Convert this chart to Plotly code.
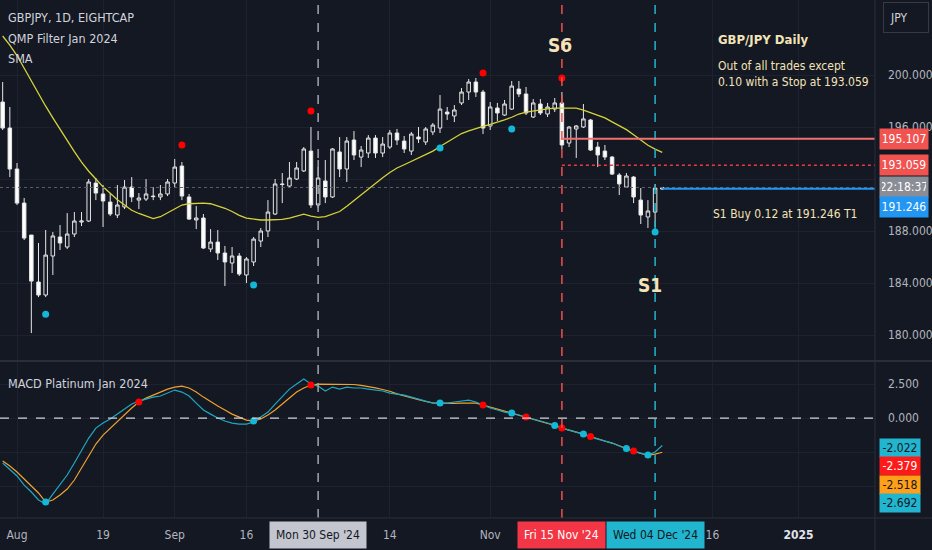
''' GBP/JPY daily chart with QMP filter, SMA and MACD Platinum panel. '''

import pandas as pd
import plotly.graph_objects as go

# trading days shown on the chart (forex: every weekday)
first_day = "2024-07-30"
last_day = "2024-12-05"

bar_open = [197.92, 195.92, 192.77, 190.15, 187.69, 184.08, 183.08, 186.08, 187.54, 186.77,
            187.77, 188.69, 188.77, 191.69, 190.85, 190.23, 189.23, 189.85, 191.38, 190.38,
            190.46, 190.69, 190.62, 190.85, 191.69, 193.0, 190.62, 188.85, 189.0, 186.62,
            187.15, 186.31, 185.54, 186.08, 184.62, 185.62, 187.23, 188.0, 189.31, 191.62,
            191.46, 192.0, 192.62, 194.15, 190.0, 191.85, 190.62, 194.08, 192.77, 195.0,
            193.69, 194.0, 195.15, 194.0, 194.46, 195.54, 194.92, 194.15, 195.23, 194.85,
            195.62, 195.92, 197.15, 196.85, 197.85, 198.69, 199.46, 198.69, 196.08, 197.46,
            196.92, 197.38, 198.92, 198.54, 196.77, 197.77, 197.0, 197.38, 197.85, 194.77,
            195.85, 196.0, 196.54, 194.46, 194.15, 193.69, 192.31, 191.38, 192.15, 190.38,
            189.08, 189.46, 191.23]
bar_high = [199.46, 197.54, 193.23, 190.54, 187.69, 187.08, 188.08, 187.92, 188.46, 189.38,
            189.46, 189.46, 192.0, 192.08, 191.54, 190.92, 191.54, 191.92, 192.15, 190.92,
            192.0, 191.38, 191.54, 192.0, 193.54, 193.31, 190.85, 189.92, 189.31, 188.15,
            188.08, 186.85, 186.77, 186.31, 186.0, 187.54, 188.23, 190.38, 192.0, 192.46,
            193.31, 193.31, 194.46, 196.0, 193.46, 193.46, 194.38, 195.23, 195.23, 195.69,
            194.54, 195.38, 195.38, 195.23, 195.77, 195.85, 195.31, 195.62, 196.0, 196.0,
            196.31, 198.46, 197.54, 197.69, 199.0, 199.69, 199.77, 198.85, 197.92, 197.85,
            198.08, 199.54, 199.54, 199.08, 198.15, 198.15, 197.85, 198.23, 198.69, 196.08,
            196.15, 197.77, 196.62, 194.85, 194.62, 193.77, 192.46, 192.46, 192.23, 191.31,
            190.38, 191.62, 191.38]
bar_low = [195.77, 192.15, 190.0, 187.31, 180.15, 182.92, 182.92, 184.62, 186.54, 186.62,
           187.54, 188.38, 188.69, 190.38, 188.31, 189.15, 189.0, 189.69, 190.23, 189.69,
           190.31, 190.38, 190.38, 190.69, 191.31, 190.38, 188.85, 188.15, 186.62, 186.38,
           185.77, 183.77, 184.77, 184.54, 184.0, 185.31, 186.77, 187.54, 189.23, 190.15,
           191.38, 191.92, 192.54, 189.77, 189.77, 190.15, 190.54, 192.15, 191.77, 193.46,
           192.92, 193.62, 193.62, 193.69, 194.31, 194.62, 194.0, 193.85, 194.77, 194.62,
           195.38, 195.54, 196.54, 196.38, 197.69, 198.08, 198.31, 195.46, 195.77, 196.46,
           196.85, 197.31, 198.31, 196.92, 196.69, 196.92, 196.77, 197.15, 194.31, 194.46,
           193.62, 195.92, 194.15, 192.92, 193.46, 192.31, 190.77, 191.31, 190.15, 188.54,
           188.23, 188.31, 191.15]
bar_close = [195.92, 192.77, 190.15, 187.46, 184.15, 183.08, 186.15, 187.62, 187.08, 187.77,
             188.77, 188.77, 191.77, 190.92, 190.31, 189.31, 190.0, 191.38, 190.62, 190.54,
             190.85, 190.65, 190.85, 191.77, 192.92, 190.69, 188.92, 189.0, 186.69, 187.15,
             186.31, 185.62, 186.08, 184.69, 185.85, 187.38, 188.0, 189.46, 191.62, 191.58,
             192.08, 192.85, 194.31, 190.0, 192.08, 190.62, 194.31, 192.77, 194.92, 193.85,
             194.23, 195.15, 194.0, 194.69, 195.54, 195.0, 194.31, 195.46, 195.08, 195.85,
             196.15, 197.38, 197.0, 197.31, 198.69, 199.46, 198.69, 195.92, 197.54, 197.08,
             197.77, 199.15, 198.54, 197.08, 197.85, 197.08, 197.54, 197.85, 194.62, 196.0,
             196.08, 196.62, 194.23, 193.85, 193.69, 192.38, 191.62, 192.23, 190.62, 189.23,
             189.54, 191.31, 191.35]
sma = [203.0, 202.3, 201.5, 200.5, 199.5, 198.5, 197.6, 196.7, 195.8, 194.9,
       194.1, 193.3, 192.6, 192.0, 191.4, 190.9, 190.4, 190.0, 189.6, 189.35,
       189.15, 188.95, 189.1, 189.4, 189.7, 190.0, 190.1, 190.15, 190.15, 190.1,
       189.95, 189.75, 189.5, 189.2, 189.0, 188.9, 188.85, 188.85, 188.85, 188.9,
       189.0, 189.15, 189.3, 189.15, 189.05, 189.1, 189.3, 189.5, 189.9, 190.35,
       190.8, 191.25, 191.65, 192.1, 192.5, 192.85, 193.1, 193.35, 193.6, 193.85,
       194.15, 194.5, 194.85, 195.2, 195.5, 195.7, 195.9, 196.05, 196.2, 196.35,
       196.55, 196.75, 197.0, 197.15, 197.25, 197.35, 197.4, 197.45, 197.46, 197.46,
       197.45, 197.3, 197.1, 196.9, 196.7, 196.4, 196.1, 195.8, 195.4, 195.0,
       194.6, 194.3, 194.05]
macd = [-3.31, -3.82, -4.26, -4.93, -5.44, -6.03, -6.32, -5.59, -4.93, -4.19,
        -3.31, -2.43, -1.47, -0.74, -0.37, -0.07, 0.29, 0.66, 1.03, 1.25,
        1.40, 1.54, 1.62, 1.84, 2.06, 1.91, 1.62, 1.10, 0.59, 0.29,
        0.0, -0.22, -0.37, -0.44, -0.44, -0.29, 0.07, 0.44, 1.03, 1.62,
        2.13, 2.50, 2.87, 2.50, 2.35, 1.99, 2.28, 2.13, 2.28, 2.21,
        2.21, 2.13, 2.06, 1.99, 1.84, 1.76, 1.69, 1.54, 1.40, 1.25,
        1.10, 1.10, 1.10, 1.18, 1.25, 1.32, 1.18, 0.96, 0.74, 0.59,
        0.44, 0.37, 0.22, 0.07, -0.07, -0.22, -0.37, -0.51, -0.74, -0.88,
        -1.03, -1.18, -1.40, -1.54, -1.69, -1.84, -2.06, -2.28, -2.43, -2.57,
        -2.72, -2.50, -2.022]
signal = [-3.16, -3.53, -3.97, -4.49, -5.0, -5.51, -6.18, -6.03, -5.66, -5.22,
          -4.56, -3.68, -2.72, -1.91, -1.25, -0.74, -0.22, 0.29, 0.74, 1.18,
          1.47, 1.69, 1.91, 2.13, 2.28, 2.35, 2.21, 1.91, 1.54, 1.18,
          0.88, 0.59, 0.29, 0.07, -0.15, -0.22, -0.07, 0.22, 0.59, 1.03,
          1.47, 1.91, 2.21, 2.43, 2.50, 2.50, 2.50, 2.50, 2.49, 2.47,
          2.40, 2.33, 2.22, 2.10, 1.97, 1.78, 1.62, 1.48, 1.35, 1.22,
          1.12, 1.10, 1.08, 1.08, 1.10, 1.12, 1.10, 0.96, 0.81, 0.66,
          0.51, 0.37, 0.22, 0.07, -0.07, -0.22, -0.37, -0.55, -0.74, -0.88,
          -1.03, -1.18, -1.36, -1.54, -1.69, -1.84, -2.06, -2.24, -2.43, -2.61,
          -2.72, -2.65, -2.518]

# QMP filter dots on the price panel
qmp_sell_dates = ["2024-09-03", "2024-09-27", "2024-10-31", "2024-11-15"]
qmp_sell_price = [194.62, 197.23, 200.15, 199.77]
qmp_buy_dates = ["2024-08-07", "2024-09-17", "2024-10-23", "2024-11-06", "2024-12-04"]
qmp_buy_price = [181.6, 183.85, 194.38, 195.85, 187.92]

# MACD cross dots
macd_buy_dates = ["2024-08-07", "2024-09-17", "2024-10-23", "2024-11-06", "2024-11-14",
                  "2024-11-20", "2024-11-28", "2024-12-03"]
macd_sell_dates = ["2024-08-26", "2024-09-27", "2024-10-31", "2024-11-08", "2024-11-15",
                   "2024-11-21", "2024-11-29"]

tick_dates = ["2024-08-01", "2024-08-19", "2024-09-02", "2024-09-16", "2024-10-14",
              "2024-11-01", "2024-12-16", "2025-01-01"]
tick_text = ["Aug", "19", "Sep", "16", "14", "Nov", "16", "<b style='color:#e0e3eb'>2025</b>"]

# 192 and the lower MACD levels sit under the value boxes
price_ticks = [180, 184, 188, 192, 196, 200]
price_text = ["180.000", "184.000", "188.000", "", "196.000", "200.000"]
macd_ticks = [2.5, 0, -2.5, -5]
macd_text = ["2.500", "0.000", "", ""]

signal_dates = {"Mon 30 Sep '24": "2024-09-30", "Fri 15 Nov '24": "2024-11-15",
                "Wed 04 Dec '24": "2024-12-04"}
stop_level = 195.107
stop_dotted = 193.059
buy_level = 191.246
macd_marks = [("-2.022", "#22b5cf"), ("-2.379", "#ff1a1a"), ("-2.518", "#ff9f1a"),
              ("-2.692", "#22b5cf")]

BG = "#141823"
GRID = "#1e2230"
TXT = "#b2b5be"
CREAM = "#f3e3b8"
FONT = "Liberation Sans Narrow, DejaVu Sans Condensed, sans-serif"

calendar = pd.bdate_range(first_day, "2025-03-31")
position = {d.strftime("%Y-%m-%d"): k for k, d in enumerate(calendar)}


def pos(day):
    ''' Returns: bar slot of a date on the chart. '''
    return position[day]


bars = [position[d.strftime("%Y-%m-%d")] for d in pd.bdate_range(first_day, last_day)]
x_range = [pos("2024-08-01") - 2.371, pos("2024-08-01") + 119.67]

fig = go.Figure()
fig.add_trace(go.Candlestick(
    x=bars, open=bar_open, high=bar_high, low=bar_low, close=bar_close,
    increasing=dict(line=dict(color="#e6e6e6", width=1), fillcolor=BG),
    decreasing=dict(line=dict(color="#e6e6e6", width=1), fillcolor="#ffffff"),
    xaxis="x", yaxis="y", hoverinfo="skip"))
fig.add_trace(go.Scatter(x=bars, y=sma, mode="lines", line=dict(color="#d8d23a", width=1.3),
                         xaxis="x", yaxis="y"))
fig.add_trace(go.Scatter(x=[pos(d) for d in qmp_sell_dates], y=qmp_sell_price, mode="markers",
                         marker=dict(color="#ff0000", size=7), xaxis="x", yaxis="y"))
fig.add_trace(go.Scatter(x=[pos(d) for d in qmp_buy_dates], y=qmp_buy_price, mode="markers",
                         marker=dict(color="#12b8d6", size=7), xaxis="x", yaxis="y"))

fig.add_trace(go.Scatter(x=bars, y=signal, mode="lines", line=dict(color="#f0a030", width=1.2),
                         xaxis="x2", yaxis="y2"))
fig.add_trace(go.Scatter(x=bars, y=macd, mode="lines", line=dict(color="#1fa8c0", width=1.2),
                         xaxis="x2", yaxis="y2"))
signal_at = dict(zip(bars, signal))
fig.add_trace(go.Scatter(x=[pos(d) for d in macd_sell_dates],
                         y=[signal_at[pos(d)] for d in macd_sell_dates], mode="markers",
                         marker=dict(color="#ff0000", size=7), xaxis="x2", yaxis="y2"))
fig.add_trace(go.Scatter(x=[pos(d) for d in macd_buy_dates],
                         y=[signal_at[pos(d)] for d in macd_buy_dates], mode="markers",
                         marker=dict(color="#12b8d6", size=7), xaxis="x2", yaxis="y2"))

# current price line first, so the trade lines sit on top of it
fig.add_shape(type="line", xref="paper", yref="y", x0=0, x1=1, y0=bar_close[-1],
              y1=bar_close[-1], line=dict(color="#5d606b", width=1, dash="dot"))

# vertical signal lines through both panels
line_colors = ["#a3a6af", "#f0504a", "#22b5cf"]
for (label, day), colour in zip(signal_dates.items(), line_colors):
    fig.add_shape(type="line", xref="x", yref="paper", x0=pos(day), x1=pos(day), y0=0, y1=1,
                  line=dict(color=colour, width=1.5, dash="dash"))

fig.add_shape(type="line", xref="x", yref="y", x0=pos("2024-11-15"), x1=x_range[1],
              y0=stop_level, y1=stop_level, line=dict(color="#f07070", width=2))
fig.add_shape(type="line", xref="x", yref="y", x0=pos("2024-11-15"), x1=x_range[1],
              y0=stop_dotted, y1=stop_dotted, line=dict(color="#f23645", width=1.5, dash="dot"))
fig.add_shape(type="line", xref="x", yref="y", x0=pos(last_day), x1=x_range[1],
              y0=buy_level, y1=buy_level, line=dict(color="#2196f3", width=2))
fig.add_shape(type="line", xref="paper", yref="y2", x0=0, x1=1, y0=0, y1=0,
              line=dict(color="#d1d4dc", width=1.2, dash="dash"))
fig.add_shape(type="line", xref="paper", yref="paper", x0=0, x1=1.07, y0=0.303, y1=0.303,
              line=dict(color="#2a2e39", width=2))
fig.add_shape(type="line", xref="paper", yref="paper", x0=0, x1=1.07, y0=0, y1=0,
              line=dict(color="#2a2e39", width=1))
fig.add_shape(type="line", xref="paper", yref="paper", x0=1, x1=1, y0=-0.07, y1=1,
              line=dict(color="#2a2e39", width=1))


def note(text, x, y, xref="paper", yref="paper", xanchor="left", **kw):
    ''' Adds a text label anchored at its middle height. '''
    fig.add_annotation(text=text, xref=xref, yref=yref, x=x, y=y, xanchor=xanchor,
                       yanchor="middle", showarrow=False, **kw)


# top-left legend texts
for text, yy in [("GBPJPY, 1D, EIGHTCAP", 0.9653), ("QMP Filter Jan 2024", 0.9266),
                 ("SMA", 0.888), ("MACD Platinum Jan 2024", 0.2587)]:
    note(text, 0, yy, xshift=6, font=dict(color="#d1d4dc", size=12.5, family=FONT))

note("<b>S6</b>", pos("2024-11-15"), 0.9131, xref="x", xanchor="center", xshift=-2,
     font=dict(color=CREAM, size=19, family=FONT))
note("<b>S1</b>", pos("2024-12-04"), 0.4498, xref="x", xanchor="center", xshift=-5,
     font=dict(color=CREAM, size=19, family=FONT))
note("<b>GBP/JPY Daily</b>", 0.872, 0.9228, xanchor="center",
     font=dict(color=CREAM, size=13, family=FONT))
note("Out of all trades except<br>0.10 with a Stop at 193.059", 0.8183, 0.8562, align="left",
     font=dict(color=CREAM, size=12, family=FONT))
note("S1 Buy 0.12 at 191.246 T1", 0.8126, 0.5869, font=dict(color=CREAM, size=12, family=FONT))
note("JPY", 1.0354, 0.9653, xanchor="center", width=32, height=17, align="left",
     bordercolor="#363a45", borderwidth=1, borderpad=6,
     font=dict(color="#d1d4dc", size=12, family=FONT))

# price scale labels
price_marks = [("195.107", stop_level, "y", "#f05350", "#ffffff"),
               ("193.059", stop_dotted, "y", "#f05350", "#ffffff"),
               ("22:18:37", bar_close[-1], "y", "#8a8d96", "#ffffff"),
               ("191.246", 0.6004, "paper", "#2196f3", "#ffffff")]
for text, yy, ref, bg, fg in price_marks:
    note(text, 1, yy, yref=ref, xshift=4, width=44, height=16, bgcolor=bg, borderpad=2,
         font=dict(color=fg, size=12, family=FONT))
for (text, bg), yy in zip(macd_marks, [0.1351, 0.1004, 0.0637, 0.029]):
    fg = "#ffffff" if bg == "#ff1a1a" else "#131722"
    note(text, 1, yy, xshift=4, width=38, height=16, bgcolor=bg, borderpad=1,
         font=dict(color=fg, size=12, family=FONT))

# date boxes on the time scale
date_box = [("#c3c6ce", "#131722"), ("#f23645", "#ffffff"), ("#22b5cf", "#131722")]
for (label, day), (bg, fg) in zip(signal_dates.items(), date_box):
    note(label, pos(day), -0.0328, xref="x", xanchor="center", bgcolor=bg, borderpad=6,
         font=dict(color=fg, size=12, family=FONT))

axis_font = dict(color=TXT, size=12, family=FONT)
fig.update_layout(
    width=932, height=550,
    margin=dict(l=0, r=57, t=0, b=32),
    paper_bgcolor=BG, plot_bgcolor=BG,
    showlegend=False,
    xaxis=dict(domain=[0, 1], anchor="y", range=x_range, rangeslider=dict(visible=False),
               tickvals=[pos(d) for d in tick_dates], showticklabels=False,
               showgrid=True, gridcolor=GRID, zeroline=False),
    xaxis2=dict(domain=[0, 1], anchor="y2", matches="x", range=x_range,
                tickvals=[pos(d) for d in tick_dates], ticktext=tick_text,
                tickfont=axis_font, ticks="", ticklabelstandoff=8,
                showgrid=True, gridcolor=GRID, zeroline=False),
    yaxis=dict(domain=[0.305, 1], range=[178.08, 205.769], side="right",
               tickvals=price_ticks, ticktext=price_text, tickfont=axis_font, ticks="",
               ticklabelstandoff=12, showgrid=True, gridcolor=GRID, zeroline=False),
    yaxis2=dict(domain=[0, 0.301], range=[-7.353, 4.118], side="right",
                tickvals=macd_ticks, ticktext=macd_text, tickfont=axis_font, ticks="",
                ticklabelstandoff=12, showgrid=True, gridcolor=GRID, zeroline=False),
)

fig.write_html("out.html", config={"displayModeBar": False},
               post_script="document.body.style.margin='0';"
                           "document.body.style.overflow='hidden';")
